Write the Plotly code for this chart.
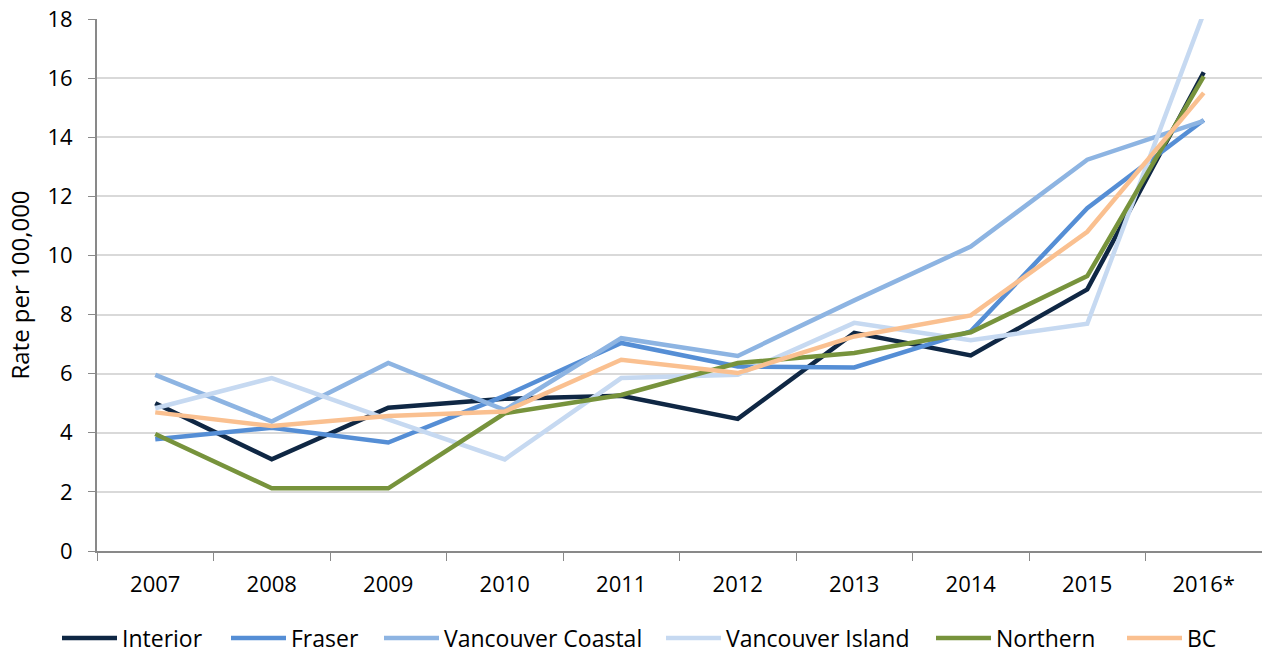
import plotly.graph_objects as go

years = ["2007", "2008", "2009", "2010", "2011", "2012", "2013", "2014", "2015", "2016*"]
interior = [5.0, 3.1, 4.85, 5.15, 5.25, 4.47, 7.38, 6.62, 8.85, 16.2]
fraser = [3.78, 4.17, 3.67, 5.25, 7.04, 6.24, 6.21, 7.43, 11.6, 14.58]
van_coastal = [5.96, 4.38, 6.36, 4.77, 7.2, 6.6, 8.48, 10.3, 13.24, 14.55]
van_island = [4.83, 5.85, 4.45, 3.1, 5.85, 5.96, 7.72, 7.13, 7.69, 18.2]
northern = [3.96, 2.12, 2.12, 4.66, 5.28, 6.36, 6.7, 7.4, 9.3, 16.06]
bc = [4.69, 4.23, 4.57, 4.72, 6.47, 6.02, 7.26, 7.97, 10.8, 15.5]

series = [
    ("Interior", interior, "#0F2744"),
    ("Fraser", fraser, "#558ED5"),
    ("Vancouver Coastal", van_coastal, "#8DB4E2"),
    ("Vancouver Island", van_island, "#C6D9F1"),
    ("Northern", northern, "#77933C"),
    ("BC", bc, "#FAC090"),
]
# x (px) where each legend label text starts
legend_text_px = [123, 292, 445, 727, 997, 1188]
ITEMW = 55

W, H = 1262, 655
L, T, R, B = 97, 19, 0, 104
PW = W - L - R
PH = H - T - B

font = "Open Sans, Liberation Sans, sans-serif"
fig = go.Figure()
legends = {}
for i, (name, vals, color) in enumerate(series):
    key = "legend" if i == 0 else f"legend{i+1}"
    fig.add_trace(go.Scatter(x=years, y=vals, name=name, mode="lines",
                             line=dict(color=color, width=4.5), legend=key))
    legends[key] = dict(
        x=(legend_text_px[i] - (ITEMW + 11) - L) / PW, xanchor="left",
        y=-(638 - (T + PH)) / PH, yanchor="middle",
        orientation="h", font=dict(family=font, size=23, color="#000000"),
        bgcolor="rgba(0,0,0,0)", borderwidth=0, itemwidth=ITEMW,
    )

fig.update_layout(
    width=W, height=H,
    margin=dict(l=L, r=R, t=T, b=B, autoexpand=False),
    paper_bgcolor="white", plot_bgcolor="white",
    font=dict(family=font, size=22, color="#000000"),
    showlegend=True,
    xaxis=dict(
        type="category", tickson="boundaries", ticks="outside", ticklen=8,
        tickcolor="#898989", showline=True, linecolor="#898989", linewidth=2,
        showgrid=False, tickfont=dict(size=22), range=[-0.5, 9.5], automargin=False,
        ticklabelstandoff=13,
    ),
    yaxis=dict(
        range=[0, 18], dtick=2, ticks="outside", ticklen=7, tickcolor="#898989",
        showline=True, linecolor="#898989", linewidth=2,
        gridcolor="#D9D9D9", gridwidth=1.5, zeroline=False,
        tickfont=dict(size=22), automargin=False, ticklabeloverflow="allow",
        ticklabelstandoff=11,
        title=dict(text="Rate per 100,000", font=dict(size=24), standoff=11),
    ),
    **legends,
)

fig.write_html(
    "out.html",
    config={"displayModeBar": False},
    post_script="document.body.style.margin='0';document.body.style.overflow='hidden';",
)
